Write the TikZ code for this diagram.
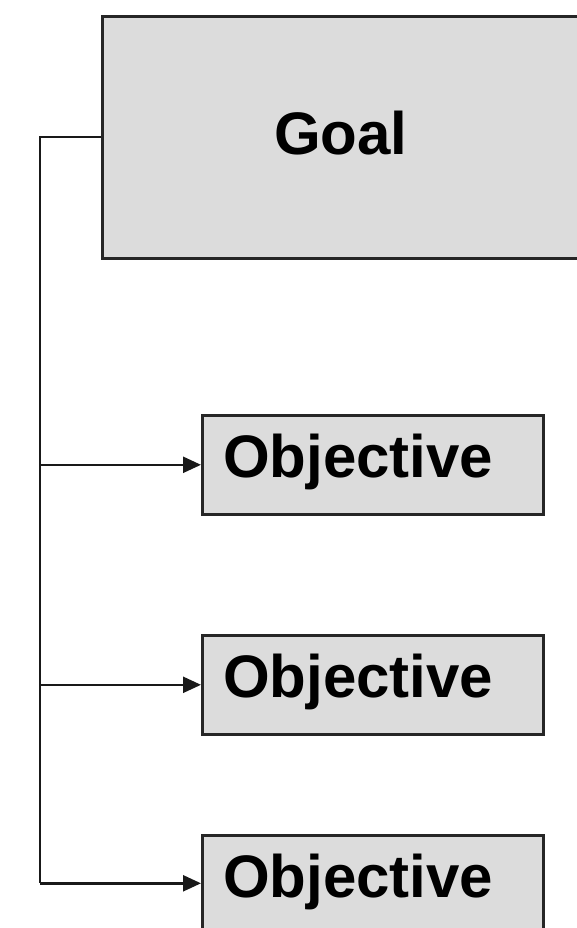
\documentclass[tikz,border=0pt]{standalone}
\usepackage{fontspec}
\setmainfont{Liberation Sans}
\usetikzlibrary{arrows.meta}
\definecolor{boxgray}{HTML}{DCDCDC}
\tikzset{
  boxstyle/.style={draw=black!85, fill=boxgray, line width=2.6pt, rectangle, inner sep=0pt},
  lbl/.style={font=\fontsize{60}{60}\selectfont\bfseries, inner sep=0pt, anchor=base west},
  conn/.style={line width=2.4pt, draw=black!90},
  tip/.style={-{Triangle[length=18pt,width=16pt]}}
}
\begin{document}
\begin{tikzpicture}[x=1pt,y=-1pt]
\useasboundingbox (0,0) rectangle (577,928);
\begin{scope}
\clip (0,0) rectangle (577,928);
\node[boxstyle, minimum width=480pt, minimum height=242pt, anchor=north west] (goal) at (101,15) {};
\node[boxstyle, minimum width=341pt, minimum height=99pt, anchor=north west] (o1) at (201,414) {};
\node[boxstyle, minimum width=341pt, minimum height=99pt, anchor=north west] (o2) at (201,634) {};
\node[boxstyle, minimum width=341pt, minimum height=96pt, anchor=north west] (o3) at (201,834) {};
\node[lbl] (tg) at (274,155) {Goal};
\node[lbl] (t1) at (223,477) {Objective};
\node[lbl] (t2) at (223,697) {Objective};
\node[lbl] (t3) at (223,897) {Objective};
\path (goal.west) ++(-61,0) coordinate (trunk);
\draw[conn, line join=miter] (goal.west) -- (trunk) -- (trunk |- o3.west);
\draw[conn, tip] (trunk |- o1.west) -- (o1.west);
\draw[conn, tip] (trunk |- o2.west) -- (o2.west);
\draw[conn, tip] (trunk |- o3.west) -- (o3.west);
\end{scope}
\end{tikzpicture}
\end{document}
